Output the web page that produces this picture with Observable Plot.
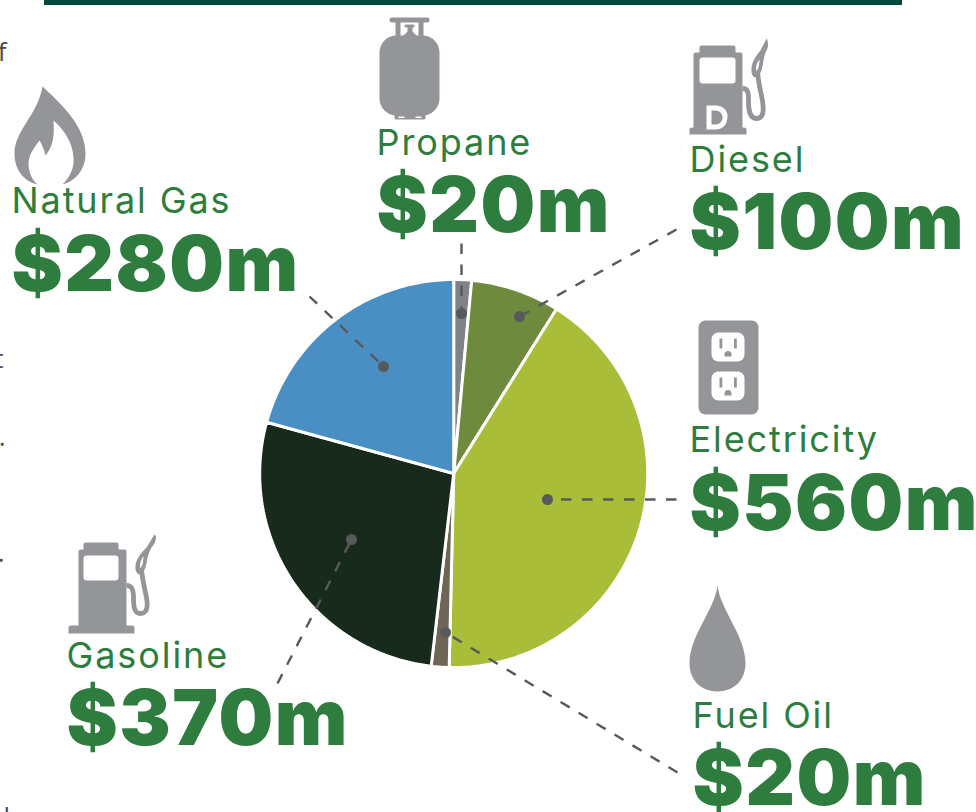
<!DOCTYPE html>
<html>
<head>
<meta charset="utf-8">
<script src="https://cdn.jsdelivr.net/npm/d3@7"></script>
<script src="https://cdn.jsdelivr.net/npm/@observablehq/plot@0.6"></script>
<style>
html,body{margin:0;padding:0;background:#fff;overflow:hidden}
svg{display:block}
[font-size="77"]{letter-spacing:1.5px}
[font-size="36"]{letter-spacing:1.9px}
</style>
</head>
<body>
<div id="chart"></div>
<script>
const fuels = ["Propane","Diesel","Electricity","Fuel Oil","Gasoline","Natural Gas"];
const spending = [20,100,560,20,370,280];
const sliceColors = ["#808285","#6e8b3d","#a9bd38","#6f6557","#182a1b","#4a8fc3"];

const W = 976, H = 812;
const GREY = "#939598", GREEN = "#2e7d3e", LEAD = "#58595b";
const pieBox = {cx:453.2, cy:473, r:194};

// layout per fuel (same order as fuels)
const nameAt  = [[376,154],[689,171],[689,451],[692,727],[66,667],[11,212]];
const valueAt = [[376,231],[689,248],[689,529],[692,804],[66,744],[11,290]];
const leadIn  = [[461,313],[519,316],[547,499],[445,632],[351,539],[383,366]];
const leadOut = [[461,243],[676,229],[676,499],[677,772],[277,683],[309,296]];

// pie geometry from the values
const arcs = d3.pie().sort(null).startAngle(0).endAngle(2*Math.PI)(spending);
const wedgePts = arcs.flatMap((a,i)=>{
  const n = Math.max(4, Math.ceil((a.endAngle-a.startAngle)*60));
  const pts = [{fuel:fuels[i],x:pieBox.cx,y:pieBox.cy}];
  for(let k=0;k<=n;k++){
    const t = a.startAngle+(a.endAngle-a.startAngle)*k/n;
    pts.push({fuel:fuels[i],x:pieBox.cx+pieBox.r*Math.sin(t),y:pieBox.cy-pieBox.r*Math.cos(t)});
  }
  pts.push(pts[0]);
  return pts;
});

const labels = fuels.map((f,i)=>({fuel:f,value:"$"+spending[i]+"m",nx:nameAt[i][0],ny:nameAt[i][1],vx:valueAt[i][0],vy:valueAt[i][1],
  x1:leadIn[i][0],y1:leadIn[i][1],x2:leadOut[i][0],y2:leadOut[i][1]}));

// pictograms
function svgIcon(x,y,w,h,body){
  const s=`<svg xmlns="http://www.w3.org/2000/svg" width="${w}" height="${h}" viewBox="${x} ${y} ${w} ${h}">${body}</svg>`;
  return {src:"data:image/svg+xml,"+encodeURIComponent(s),x:x+w/2,y:y+h/2,w,h};
}
function pump(bx0,bx1,by0,by1,cx0,cx1,cy,bbx0,bbx1,bby1,wy0,wy1,hose,noz,extra){
  return `<path fill="${GREY}" d="M${cx0} ${by0} V${cy+2} Q${cx0} ${cy} ${cx0+2} ${cy} H${cx1-2} Q${cx1} ${cy} ${cx1} ${cy+2} V${by0} H${bx1-2} Q${bx1} ${by0} ${bx1} ${by0+2} V${by1} H${bbx1-3} Q${bbx1} ${by1} ${bbx1} ${by1+2} V${bby1} H${bbx0} V${by1+2} Q${bbx0} ${by1} ${bbx0+3} ${by1} H${bx0} V${by0+2} Q${bx0} ${by0} ${bx0+2} ${by0} Z"/>
  <rect x="${cx0}" y="${wy0}" width="${cx1-cx0}" height="${wy1-wy0}" rx="3" fill="#fff"/>
  <path fill="none" stroke="${GREY}" stroke-width="4.8" d="${hose}"/>
  <path fill="${GREY}" fill-rule="evenodd" d="${noz}"/>${extra||""}`;
}
const icons = [
  svgIcon(376,14,66,108,`<g fill="${GREY}">
    <rect x="389" y="17" width="40" height="5" rx="2.5"/>
    <rect x="395" y="20" width="5" height="18"/><rect x="418" y="20" width="5" height="18"/>
    <rect x="404" y="24" width="10" height="3" rx="1.5"/>
    <path d="M407 26H412V31L417 36H402L407 31Z"/>
    <rect x="379" y="35" width="60" height="80" rx="17"/>
    <rect x="394" y="110" width="31" height="9" rx="1.5"/></g>
    <rect x="398" y="116" width="6" height="1.6" fill="#fff"/><rect x="415" y="116" width="6" height="1.6" fill="#fff"/>`),
  svgIcon(685,34,88,100,pump(693,742,52,127,699,735,45,689,746,135,57,83,
    "M742 88 C748 88 748 93 748 100 C748 110 749 118 756 118 C765 118 763 105 761 95 C759 87 758 80 757 72",
    "M751 72 C750 62 756 55 760 50 C762 46 764 42 766 38 C768 41 768 47 766 50 C764 53 764 57 763 60 C762 67 761 73 757 76 C754 78 752 76 751 72Z M756 71 C758 68 759 64 759 59 C756 62 755 67 756 71Z",
    `<path fill="#fff" fill-rule="evenodd" d="M706 105 H715 C723 105 727 110 727 116 C727 123 723 129 715 129 H706 Z M711 110 V124 H715 C719 124 722 121 722 117 C722 113 719 110 715 110 Z"/>`)),
  svgIcon(694,316,68,102,`<rect x="698" y="320" width="60" height="94" rx="7" fill="${GREY}"/>
    <rect x="711" y="332" width="33" height="29" rx="7" fill="#fff"/><rect x="711" y="371" width="33" height="29" rx="7" fill="#fff"/>
    <g fill="${GREY}"><rect x="719" y="338" width="2.8" height="10"/><rect x="733.5" y="338" width="2.8" height="10"/>
    <path d="M724 356 V354 A3.5 3.5 0 0 1 731 354 V356Z"/>
    <rect x="719" y="377" width="2.8" height="10"/><rect x="733.5" y="377" width="2.8" height="10"/>
    <path d="M724 395 V393 A3.5 3.5 0 0 1 731 393 V395Z"/></g>`),
  svgIcon(686,582,62,112,`<path fill="${GREY}" d="M717 585 C720 610 745 635 745 663 C745 680 733 691 717 691 C701 691 689 680 689 663 C689 635 714 610 717 585Z"/>`),
  svgIcon(64,530,96,106,pump(78,126,549,625,83,118,542,68,134,633,555,580,
    "M126 585 C132 585 133 590 133 597 C133 607 134 613 140 613 C149 613 147 601 145 592 C143 584 142 577 141 570",
    "M135 569 C134 559 141 552 146 547 C149 543 151 538 154 534 C157 536 155 543 151 547 C149 550 148 554 147 557 C146 564 145 570 141 573 C138 575 136 573 135 569Z M140 568 C142 565 143 561 143 556 C140 559 139 564 140 568Z"))
  ,
  svgIcon(10,84,78,102,`<path fill="${GREY}" d="M42 86 C60 103 85 125 85 153 C85 170 74 181 62 184 C69 177 74 168 73 157 C72 140 62 128 53 120 C54 135 53 145 45 155 C44 150 42 145 39 140 C33 148 28 155 28 163 C28 172 32 180 37 184 C24 181 14 170 14 153 C14 130 37 115 42 86Z"/>`)
];

// cut-off body text along the left edge
const edgeText = ["f","t",".",".","h"];
const edgeAt = [[6,60],[3,367],[5,445],[4,561],[19,825]];
const edge = edgeText.map((t,i)=>({t,x:edgeAt[i][0],y:edgeAt[i][1]}));
const topRule = [{x1:44,x2:902,y1:0,y2:5}];

const chart = Plot.plot({
  width:W, height:H, margin:0,
  style:{background:"#fff",overflow:"hidden"},
  x:{domain:[0,W],range:[0,W],axis:null},
  y:{domain:[0,H],range:[0,H],axis:null},
  color:{domain:fuels,range:sliceColors},
  marks:[
    Plot.rect(topRule,{x1:"x1",x2:"x2",y1:"y1",y2:"y2",fill:"#00493d"}),
    Plot.text(edge,{x:"x",y:"y",text:"t",textAnchor:"end",lineAnchor:"bottom",fontFamily:"Open Sans",fontSize:26,fill:"#4a4a4c"}),
    Plot.line(wedgePts,{x:"x",y:"y",z:"fuel",fill:"fuel",stroke:"#fff",strokeWidth:3,strokeLinejoin:"miter"}),
    Plot.link(labels,{x1:"x2",y1:"y2",x2:"x1",y2:"y1",stroke:LEAD,strokeWidth:2.4,strokeDasharray:"10.5 10.5"}),
    Plot.dot(labels,{x:"x1",y:"y1",r:5.5,fill:LEAD}),
    Plot.image(icons,{x:"x",y:"y",src:"src",width:"w",height:"h"}),
    Plot.text(labels,{x:"nx",y:"ny",text:"fuel",textAnchor:"start",lineAnchor:"bottom",fontFamily:"Inter",fontSize:36,fontWeight:400,fill:GREEN}),
    Plot.text(labels,{x:"vx",y:"vy",text:"value",textAnchor:"start",lineAnchor:"bottom",fontFamily:"Inter",fontSize:77,fontWeight:900,fill:GREEN})
  ]
});
document.getElementById("chart").appendChild(chart);
</script>
</body>
</html>
